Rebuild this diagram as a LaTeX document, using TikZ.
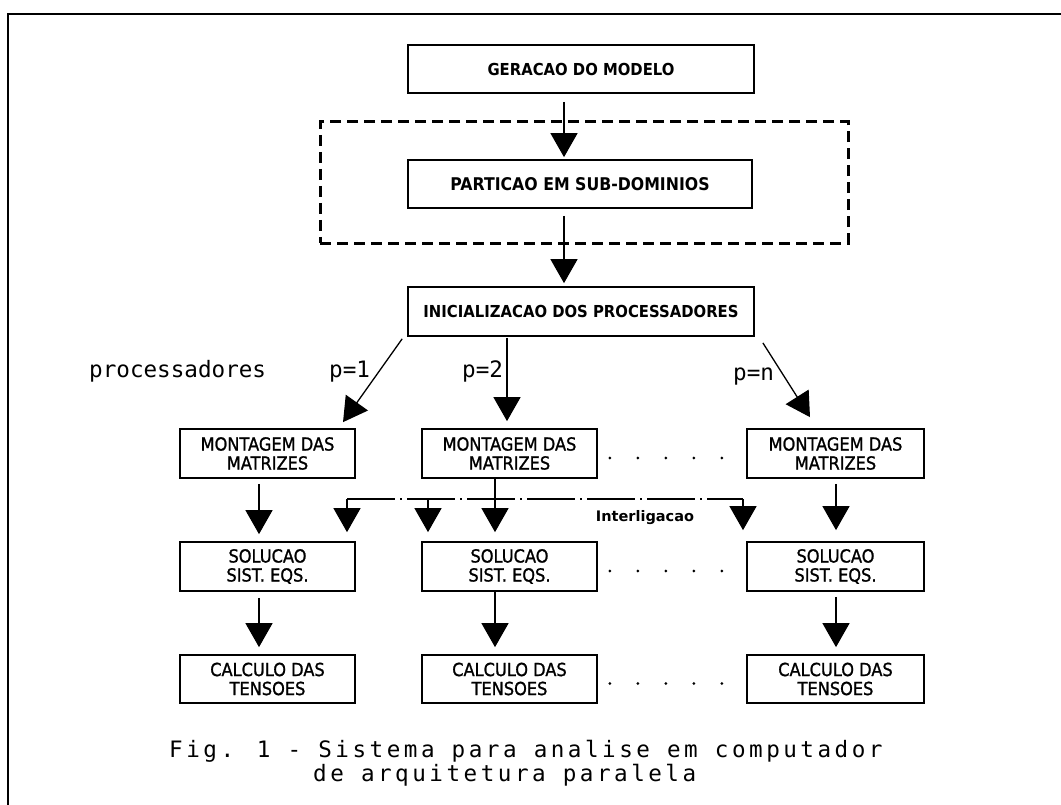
\documentclass[tikz,border=0pt]{standalone}
\usepackage{fontspec}
\setmainfont{DejaVu Sans}
\newfontfamily\headfont[FakeStretch=0.9]{DejaVu Sans}
\newfontfamily\boxfont[FakeBold=1.2,FakeStretch=0.9]{DejaVu Sans}
\newfontfamily\lblfont{DejaVu Sans Mono}
\newfontfamily\capfont[LetterSpace=15.5]{DejaVu Sans Mono}
\usetikzlibrary{arrows.meta,calc}

\begin{document}
\begin{tikzpicture}[x=1bp,y=-1bp,
  headbox/.style={draw,line width=1.7bp,inner sep=0pt,minimum width=346bp,minimum height=48bp,
    font=\headfont\bfseries\fontsize{16.5bp}{18bp}\selectfont},
  colbox/.style={draw,line width=1.7bp,inner sep=0pt,minimum width=175bp,minimum height=49bp,
    align=center,font=\boxfont\fontsize{18bp}{19bp}\selectfont},
  conn/.style={line width=1.3bp,-{Triangle[length=24bp,width=27bp]}},
  group/.style={draw,line width=3bp,dash pattern=on 11bp off 6bp,inner sep=0pt},
  interlink/.style={line width=1.3bp,dash pattern=on 48bp off 5bp on 2bp off 5bp},
  lbl/.style={inner sep=0pt,anchor=base west,font=\lblfont\fontsize{22.6bp}{24bp}\selectfont},
  caption/.style={inner sep=0pt,anchor=base west,font=\capfont\fontsize{22.6bp}{24bp}\selectfont},
  frame/.style={line width=2.6bp}
]
\useasboundingbox (0,0) rectangle (1061,805);

% page frame (top and left rules)
\coordinate (fTR) at (1061,14);
\coordinate (fTL) at (8,14);
\coordinate (fBL) at (8,805);
\draw[frame] (fTR) -- (fTL) -- (fBL);

% upper chain
\node[headbox] (gera) at (581,69) {GERACAO DO MODELO};
\node[group,minimum width=528bp,minimum height=121bp] (grp) at (584,182.5) {};
\node[headbox,minimum width=344bp,font=\headfont\bfseries\fontsize{17.5bp}{18bp}\selectfont] (part) at (580,184) {PARTICAO EM SUB-DOMINIOS};
\node[headbox,minimum height=49bp] (inic) at (581,311.5) {INICIALIZACAO DOS PROCESSADORES};

\draw[conn] ($(gera.south)+(-17,8)$) -- ($(part.north)+(-16,-2)$);
\draw[conn] ($(part.south)+(-16,7)$) -- ($(inic.north)+(-17,-3)$);

% processor columns
\node[colbox] (m1) at (267.5,453.5) {MONTAGEM DAS\\MATRIZES};
\node[colbox] (m2) at (509.5,453.5) {MONTAGEM DAS\\MATRIZES};
\node[colbox,minimum width=177bp] (m3) at (835.5,453.5) {MONTAGEM DAS\\MATRIZES};

\node[colbox] (s1) at (267.5,566.5) {SOLUCAO\\SIST. EQS.};
\node[colbox] (s2) at (509.5,566.5) {SOLUCAO\\SIST. EQS.};
\node[colbox,minimum width=177bp] (s3) at (835.5,566.5) {SOLUCAO\\SIST. EQS.};

\node[colbox,minimum height=48bp] (c1) at (267.5,679) {CALCULO DAS\\TENSOES};
\node[colbox,minimum height=48bp] (c2) at (509.5,679) {CALCULO DAS\\TENSOES};
\node[colbox,minimum height=48bp,minimum width=177bp] (c3) at (835.5,679) {CALCULO DAS\\TENSOES};

% labels of the fan-out
\node[lbl] (plab) at (89,377) {processadores};
\node[lbl] (p1) at (329,377) {p=1};
\node[lbl] (p2) at (462,377) {p=2};
\node[lbl] (pn) at (733,380) {p=n};

% fan-out to the processors
\draw[conn] ($(inic.south west)+(-5,2)$) -- ($(m1.north)+(75.5,-6)$);
\draw[conn] ($(inic.south)+(-74,1)$) -- ($(m2.north)+(-2.5,-7)$);
\draw[conn] ($(inic.south east)+(8,6)$) -- ($(m3.north)+(-25.5,-11)$);

% column flow
\draw[conn] ($(m1.south)+(-8.5,5)$) -- ($(s1.north)+(-8.5,-7)$);
\draw[conn] ($(m2.south)+(-14.5,0)$) -- ($(s2.north)+(-14.5,-9)$);
\draw[conn] ($(m3.south)+(0.5,5)$) -- ($(s3.north)+(0.5,-11)$);

\draw[conn] ($(s1.south)+(-8.5,6)$) -- ($(c1.north)+(-8.5,-7)$);
\draw[conn] ($(s2.south)+(-14.5,0)$) -- ($(c2.north)+(-14.5,-7)$);
\draw[conn] ($(s3.south)+(0.5,5)$) -- ($(c3.north)+(0.5,-7)$);

% interconnection bus
\coordinate (ilA) at (347,499);
\coordinate (ilC) at (428,499);
\coordinate (ilB) at (743,499);
\draw[interlink] (ilA) -- (ilB);
\draw[conn] (ilA) -- ($(s1.north -| ilA)+(0,-9)$);
\draw[conn] (ilC) -- ($(s2.north -| ilC)+(0,-9)$);
\draw[conn] (ilB) -- ($(s3.north -| ilB)+(0,-11)$);
\node[font=\bfseries\fontsize{14.5bp}{16bp}\selectfont,inner sep=0pt] (ilab) at (645,518) {Interligacao};

% ellipses between columns 2 and 3
\foreach \b in {m2,s2,c2}
  \foreach \i in {0,...,4}
    \fill ($(\b.east)+(12+28*\i,4.5)$) circle (1.6);

% caption
\node[caption] (cap1) at (169,757) {Fig. 1 - Sistema para analise em computador};
\node[caption] (cap2) at (313,781) {de arquitetura paralela};
\end{tikzpicture}
\end{document}
